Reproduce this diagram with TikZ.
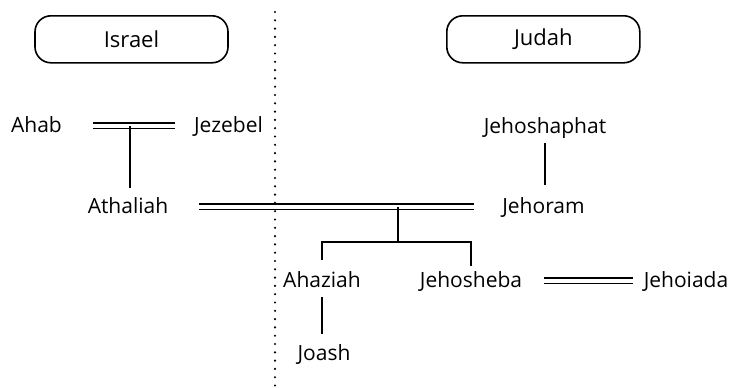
\documentclass[tikz,border=0pt]{standalone}
\usepackage{fontspec}
\setmainfont{Open Sans}

\begin{document}
\begin{tikzpicture}
	[x=1pt,y=1pt,every node/.style={inner sep=0pt, anchor=base, font=\fontsize{21}{24}\selectfont},
	kingdom/.style={draw, line width=1.6pt, rounded corners=16pt, minimum width=193pt, minimum height=47pt, anchor=center, font=\fontsize{22}{26}\selectfont},
	wed/.style={double, line width=1.2pt, double distance=4.6pt},
	kin/.style={line width=2pt},
	border/.style={line width=2.4pt, line cap=round, dash pattern=on 0pt off 8.3pt}]
	\useasboundingbox (0,0) rectangle (732,-388);
	\node[kingdom] (israel) at (131.5,-39.3) {Israel};
	\node[kingdom] (judah) at (543.3,-39.3) {Judah};
	\coordinate (top) at (275,-12);
	\coordinate (bottom) at (275,-388);
	\draw[border] (top) -- (bottom);
	
	\node (ahab) at (36.5,-132) {Ahab};
	\node (jezebel) at (228.5,-132) {Jezebel};
	\node (athaliah) at (128,-213) {Athaliah};
	\node (jehoshaphat) at (545,-133) {Jehoshaphat};
	\node (jehoram) at (543.5,-213) {Jehoram};
	\node (ahaziah) at (322,-287) {Ahaziah};
	\node (jehosheba) at (471,-287) {Jehosheba};
	\node (jehoiada) at (686,-287) {Jehoiada};
	\node (joash) at (324,-360) {Joash};
	\coordinate (m1) at (130,-126);
	\coordinate (m2) at (398,-206.7);
	\coordinate (fork) at (398,-242);
	
	\draw[wed, shorten <=31pt, shorten >=19pt] ([yshift=3.5pt]ahab.mid east) -- ([yshift=3.5pt]ahab.mid east -| jezebel.west);
	\draw[wed, shorten <=31pt, shorten >=28pt] ([yshift=3.5pt]athaliah.mid east) -- ([yshift=3.5pt]athaliah.mid east -| jehoram.west);
	\draw[wed, shorten <=22pt, shorten >=11pt] ([yshift=3.5pt]jehosheba.mid east) -- ([yshift=3.5pt]jehosheba.mid east -| jehoiada.west);
	
	\draw[kin, shorten >=9pt] (m1) -- (m1 |- athaliah.north);
	\draw[kin, shorten <=5pt, shorten >=12pt] (jehoshaphat.south) -- (jehoshaphat.south |- jehoram.north);
	\draw[kin] (m2) -- (fork);
	\draw[kin, shorten >=11pt] (fork) -| (ahaziah.north);
	\draw[kin, shorten >=5pt] (fork) -| (jehosheba.north);
	\draw[kin, shorten <=10pt, shorten >=10pt] (ahaziah.south) -- (ahaziah.south |- joash.north);
\end{tikzpicture}
\end{document}
